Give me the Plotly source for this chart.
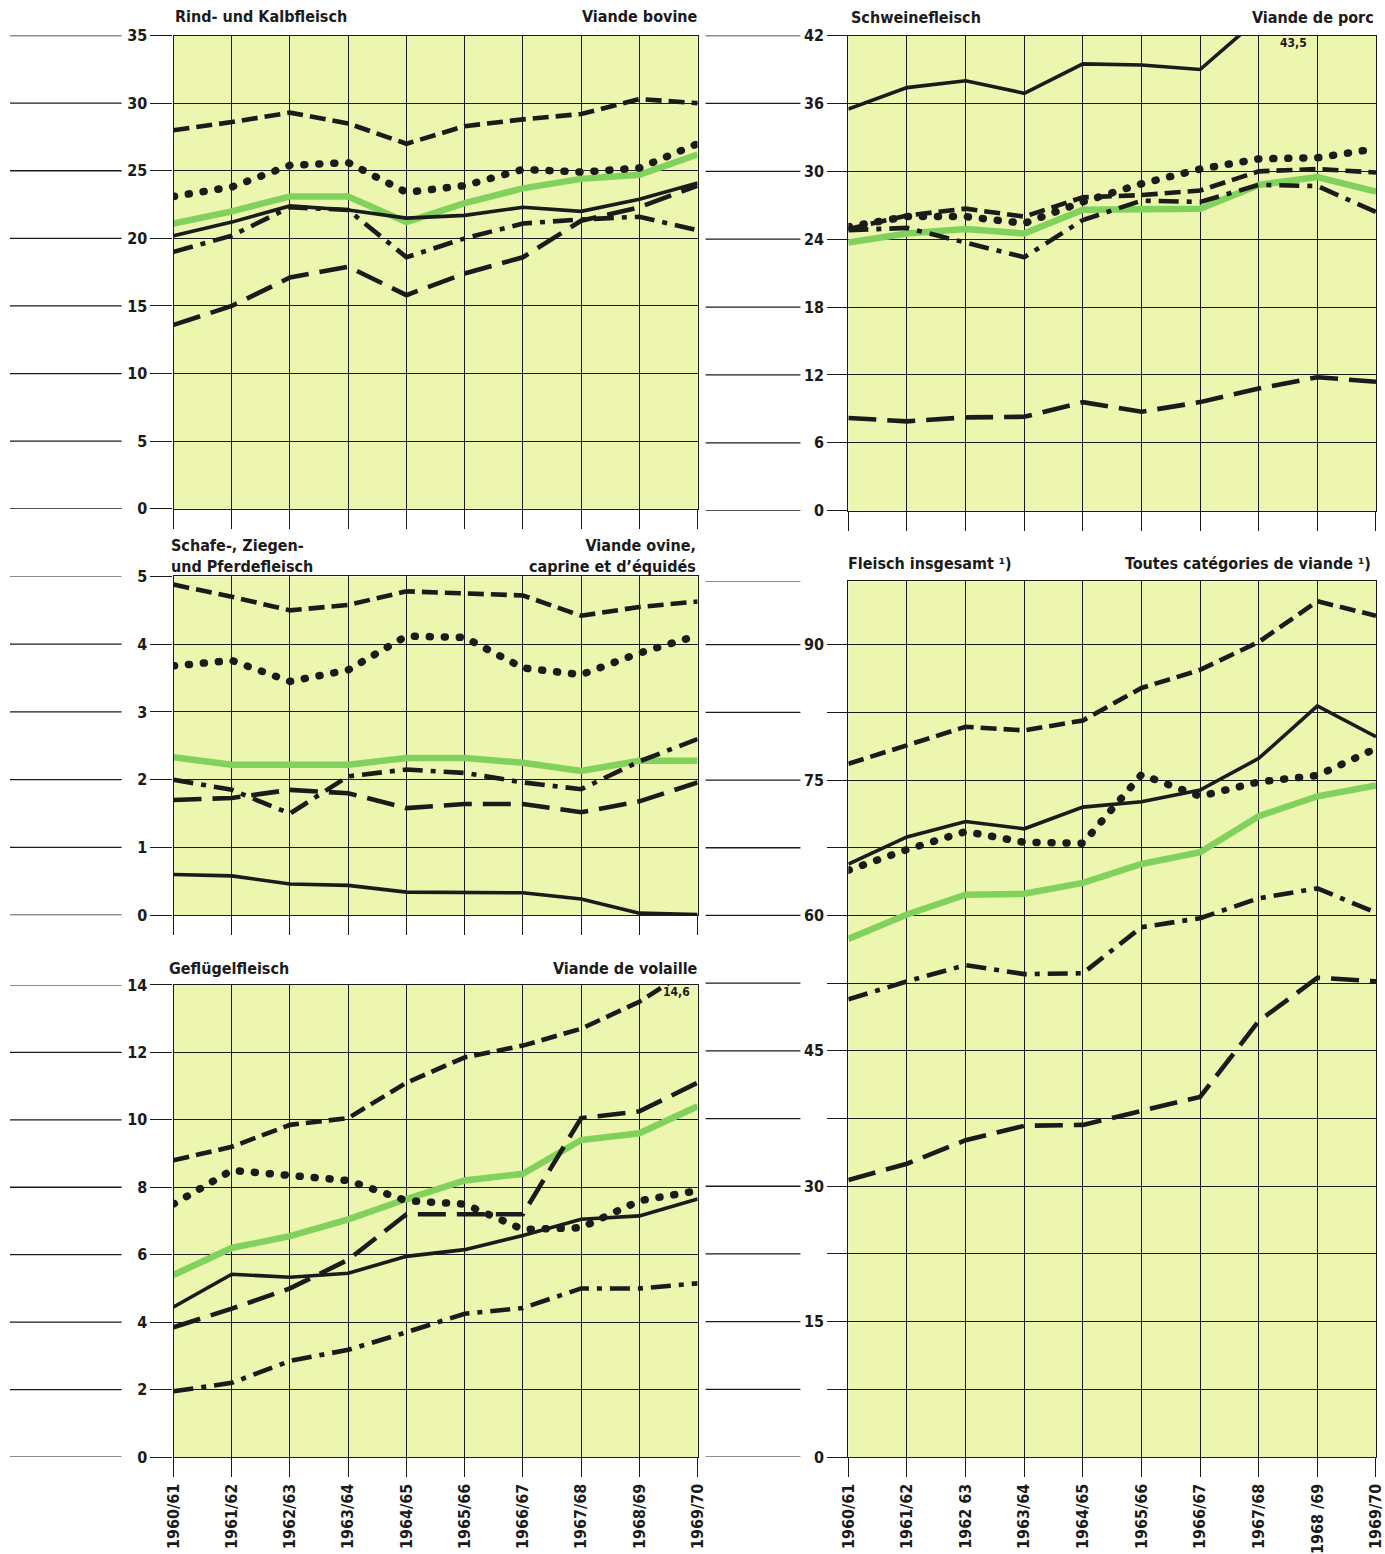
import plotly.graph_objects as go

# ---------------- data ----------------
years_left = ["1960/61", "1961/62", "1962/63", "1963/64", "1964/65",
              "1965/66", "1966/67", "1967/68", "1968/69", "1969/70"]
years_right = ["1960/61", "1961/62", "1962 63", "1963/64", "1964/65",
               "1965/66", "1966/67", "1967/68", "1968 /69", "1969/70"]

# Rind- und Kalbfleisch / Viande bovine
beef_solid   = [20.2, 21.2, 22.4, 22.1, 21.5, 21.7, 22.3, 22.0, 22.9, 24.1]
beef_short   = [28.0, 28.6, 29.3, 28.5, 27.0, 28.3, 28.8, 29.2, 30.3, 30.0]
beef_long    = [13.6, 15.0, 17.1, 17.9, 15.8, 17.4, 18.6, 21.3, 22.3, 23.9]
beef_dashdot = [19.0, 20.2, 22.3, 22.1, 18.6, 20.0, 21.1, 21.4, 21.6, 20.6]
beef_dotted  = [23.1, 23.8, 25.4, 25.6, 23.4, 23.9, 25.1, 24.9, 25.2, 27.0]
beef_green   = [21.1, 22.0, 23.1, 23.1, 21.2, 22.6, 23.7, 24.4, 24.7, 26.2]

# Schweinefleisch / Viande de porc
pork_solid   = [35.5, 37.4, 38.0, 36.9, 39.5, 39.4, 39.0, 43.5, None, None]
pork_short   = [24.9, 26.1, 26.7, 26.0, 27.7, 27.9, 28.3, 30.0, 30.2, 29.9]
pork_long    = [8.2, 7.9, 8.25, 8.3, 9.6, 8.75, 9.6, 10.8, 11.8, 11.4]
pork_dashdot = [24.8, 25.0, 23.7, 22.4, 25.7, 27.4, 27.3, 28.8, 28.7, 26.4]
pork_dotted  = [25.1, 26.0, 26.0, 25.4, 27.3, 28.9, 30.2, 31.1, 31.2, 32.0]
pork_green   = [23.7, 24.5, 24.9, 24.5, 26.6, 26.7, 26.7, 28.8, 29.5, 28.2]

# Schafe-, Ziegen- und Pferdefleisch / Viande ovine, caprine et d'équidés
sheep_solid   = [0.60, 0.58, 0.46, 0.44, 0.34, 0.34, 0.33, 0.24, 0.03, 0.01]
sheep_short   = [4.88, 4.70, 4.50, 4.58, 4.78, 4.75, 4.72, 4.42, 4.55, 4.63]
sheep_long    = [1.70, 1.73, 1.85, 1.80, 1.58, 1.64, 1.64, 1.52, 1.68, 1.96]
sheep_dashdot = [2.00, 1.85, 1.50, 2.05, 2.15, 2.10, 1.96, 1.86, 2.27, 2.60]
sheep_dotted  = [3.68, 3.76, 3.45, 3.62, 4.12, 4.10, 3.65, 3.55, 3.87, 4.13]
sheep_green   = [2.33, 2.22, 2.22, 2.22, 2.32, 2.32, 2.25, 2.13, 2.28, 2.28]

# Geflügelfleisch / Viande de volaille
poultry_solid   = [4.45, 5.42, 5.33, 5.45, 5.95, 6.15, 6.57, 7.05, 7.15, 7.65]
poultry_short   = [8.8, 9.2, 9.85, 10.05, 11.1, 11.85, 12.2, 12.7, 13.5, 14.6]
poultry_long    = [3.85, 4.4, 5.0, 5.85, 7.2, 7.2, 7.2, 10.05, 10.25, 11.1]
poultry_dashdot = [1.95, 2.2, 2.85, 3.18, 3.7, 4.25, 4.42, 5.0, 5.0, 5.15]
poultry_dotted  = [7.5, 8.5, 8.35, 8.2, 7.6, 7.5, 6.75, 6.8, 7.6, 7.9]
poultry_green   = [5.4, 6.2, 6.55, 7.05, 7.65, 8.2, 8.4, 9.4, 9.6, 10.4]

# Fleisch insgesamt / Toutes catégories de viande
total_solid   = [65.7, 68.7, 70.4, 69.6, 72.0, 72.6, 73.9, 77.4, 83.2, 79.8]
total_short   = [76.8, 78.8, 80.9, 80.5, 81.6, 85.2, 87.2, 90.3, 94.8, 93.2]
total_long    = [30.7, 32.5, 35.1, 36.7, 36.8, 38.3, 39.9, 48.3, 53.1, 52.7]
total_dashdot = [50.7, 52.7, 54.5, 53.5, 53.6, 58.7, 59.7, 61.9, 63.0, 60.3]
total_dotted  = [65.0, 67.3, 69.3, 68.1, 68.0, 75.6, 73.2, 74.8, 75.5, 78.5]
total_green   = [57.4, 60.1, 62.3, 62.4, 63.6, 65.7, 67.0, 71.0, 73.2, 74.4]

beef_ticks = [0, 5, 10, 15, 20, 25, 30, 35]
pork_ticks = [0, 6, 12, 18, 24, 30, 36, 42]
sheep_ticks = [0, 1, 2, 3, 4, 5]
poultry_ticks = [0, 2, 4, 6, 8, 10, 12, 14]
total_ticks = [0, 7.5, 15, 22.5, 30, 37.5, 45, 52.5, 60, 67.5, 75, 82.5, 90]
total_ticktext = ["0", "", "15", "", "30", "", "45", "", "60", "", "75", "", "90"]

# ---------------- styles ----------------
W, H = 1385, 1554
CAL_SX, CAL_OX = 0.988, 8.2     # compensation for how the page is photographed
CAL_SY, CAL_OY = 0.9832, 8.33
INK = "#1b1b1b"
BG = "#ecf6ae"
GREEN = "#80d25c"
FONT = "'Liberation Sans Narrow', 'DejaVu Sans Condensed', 'Arial Narrow', sans-serif"
DOT_DASH = "1px,14px"
STY = {
    "green":   dict(color=GREEN, width=6.5, dash="solid"),
    "solid":   dict(color=INK, width=3.6, dash="solid"),
    "short":   dict(color=INK, width=4.6, dash="16px,7px"),
    "long":    dict(color=INK, width=4.6, dash="28px,11px"),
    "dashdot": dict(color=INK, width=4.6, dash="20px,8px,5px,8px"),
    "dotted":  dict(color=INK, width=7.5, dash=DOT_DASH),
}

def px_x(p):
    return min(max(((p - CAL_OX) / CAL_SX) / W, 0.0), 1.0)

def px_y(p):
    return min(max(1 - ((p - CAL_OY) / CAL_SY) / H, 0.0), 1.0)

LEFT_X = [px_x(172), px_x(697)]
RIGHT_X = [px_x(848), px_x(1378)]

panels = [
    dict(ax="", xd=LEFT_X, yd=(35, 510), yr=[0, 35], tv=beef_ticks, tt=None,
         series=[("green", beef_green), ("solid", beef_solid), ("short", beef_short),
                 ("long", beef_long), ("dashdot", beef_dashdot), ("dotted", beef_dotted)],
         xlab=False, labels=years_left, col="L"),
    dict(ax="2", xd=RIGHT_X, yd=(35, 512), yr=[0, 42], tv=pork_ticks, tt=None,
         series=[("green", pork_green), ("solid", pork_solid), ("short", pork_short),
                 ("long", pork_long), ("dashdot", pork_dashdot), ("dotted", pork_dotted)],
         xlab=False, labels=years_right, col="R"),
    dict(ax="3", xd=LEFT_X, yd=(578, 918), yr=[0, 5], tv=sheep_ticks, tt=None,
         series=[("green", sheep_green), ("solid", sheep_solid), ("short", sheep_short),
                 ("long", sheep_long), ("dashdot", sheep_dashdot), ("dotted", sheep_dotted)],
         xlab=False, labels=years_left, col="L"),
    dict(ax="4", xd=RIGHT_X, yd=(583, 1462), yr=[0, 97], tv=total_ticks, tt=total_ticktext,
         series=[("green", total_green), ("solid", total_solid), ("short", total_short),
                 ("long", total_long), ("dashdot", total_dashdot), ("dotted", total_dotted)],
         xlab=True, labels=years_right, col="R"),
    dict(ax="5", xd=LEFT_X, yd=(988, 1462), yr=[0, 14], tv=poultry_ticks, tt=None,
         series=[("green", poultry_green), ("solid", poultry_solid), ("short", poultry_short),
                 ("long", poultry_long), ("dashdot", poultry_dashdot), ("dotted", poultry_dotted)],
         xlab=True, labels=years_left, col="L"),
]

fig = go.Figure()
layout = dict(
    width=W, height=H, autosize=False,
    margin=dict(l=0, r=0, t=0, b=0),
    paper_bgcolor="white", plot_bgcolor=BG,
    showlegend=False,
    font=dict(family=FONT, color=INK),
)
shapes = []
xs = list(range(10))

for p in panels:
    a = p["ax"]
    xref = "x" + a
    yref = "y" + a
    for style, vals in p["series"]:
        fig.add_trace(go.Scatter(
            x=xs, y=vals, mode="lines", line=STY[style],
            xaxis=xref, yaxis=yref, hoverinfo="skip", connectgaps=False,
        ))
    layout["xaxis" + a] = dict(
        domain=p["xd"], range=[0, 9], anchor=yref,
        tickmode="array", tickvals=xs, ticktext=p["labels"],
        showticklabels=p["xlab"], tickangle=-90, ticklabeloverflow="allow",
        tickfont=dict(family=FONT, size=16, color=INK, weight="bold"),
        ticks="outside", ticklen=19, tickwidth=1.3, tickcolor=INK,
        showgrid=True, gridcolor=INK, gridwidth=1.3,
        showline=True, mirror=True, linecolor=INK, linewidth=1.3,
        zeroline=False, fixedrange=True,
    )
    yd = p["yd"]
    layout["yaxis" + a] = dict(
        domain=[px_y(yd[1]), px_y(yd[0])], range=p["yr"], anchor=xref,
        tickmode="array", tickvals=p["tv"],
        ticktext=p["tt"] if p["tt"] else [str(v) for v in p["tv"]],
        tickfont=dict(family=FONT, size=16, color=INK, weight="bold"),
        ticks="outside", ticklen=22 if p["col"] == "L" else 20,
        tickwidth=1.3, tickcolor=INK,
        showgrid=True, gridcolor=INK, gridwidth=1.3,
        showline=True, mirror=True, linecolor=INK, linewidth=1.3,
        zeroline=False, fixedrange=True,
    )
    x0, x1 = (5, 120) if p["col"] == "L" else (705, 800)
    levels = list(p["tv"])
    if p["yr"][1] not in levels:
        levels.append(p["yr"][1])
    for v in levels:
        shapes.append(dict(type="line", xref="paper", yref=yref,
                           x0=px_x(x0), x1=px_x(x1), y0=v, y1=v,
                           line=dict(color=INK, width=1.3)))

layout["shapes"] = shapes

TF = dict(family=FONT, size=16, color=INK, weight="bold")
def title(text, xp, yp, anchor, yanchor="middle"):
    return dict(text=text, x=px_x(xp), y=px_y(yp), xref="paper", yref="paper",
                xanchor=anchor, yanchor=yanchor, showarrow=False, font=TF, align=anchor)

annotations = [
    title("Rind- und Kalbfleisch", 171, 16, "left"),
    title("Viande bovine", 699, 16, "right"),
    title("Schweinefleisch", 849, 17, "left"),
    title("Viande de porc", 1381, 17, "right"),
    title("Schafe-, Ziegen-<br>und Pferdefleisch", 167, 580, "left", "bottom"),
    title("Viande ovine,<br>caprine et d’équidés", 697, 580, "right", "bottom"),
    title("Fleisch insgesamt ¹)", 846, 565, "left"),
    title("Toutes catégories de viande ¹)", 1374, 565, "right"),
    title("Geflügelfleisch", 165, 972, "left"),
    title("Viande de volaille", 699, 972, "right"),
    dict(text="43,5", x=7.6, y=41.3, xref="x2", yref="y2", showarrow=False,
         font=dict(family=FONT, size=12, color=INK, weight="bold")),
    dict(text="14,6", x=8.63, y=13.8, xref="x5", yref="y5", showarrow=False,
         font=dict(family=FONT, size=12, color=INK, weight="bold")),
]
layout["annotations"] = annotations

fig.update_layout(**layout)

post = """
(function(){
  document.documentElement.style.margin='0';
  document.documentElement.style.overflow='hidden';
  document.body.style.margin='0';
  document.body.style.padding='0';
  document.body.style.overflow='hidden';
  var gd = document.querySelector('.plotly-graph-div');
  if (gd) { gd.style.position='fixed'; gd.style.left='0px'; gd.style.top='0px'; }
  function roundDots(){
    document.querySelectorAll('.scatterlayer path.js-line').forEach(function(p){
      var d = (p.style.strokeDasharray || p.getAttribute('stroke-dasharray') || '');
      if (d.indexOf('14px') >= 0) { p.style.strokeLinecap = 'round'; }
    });
  }
  roundDots();
  setTimeout(roundDots, 50);
})();
"""
fig.write_html("out.html", post_script=post, config={"displayModeBar": False})
